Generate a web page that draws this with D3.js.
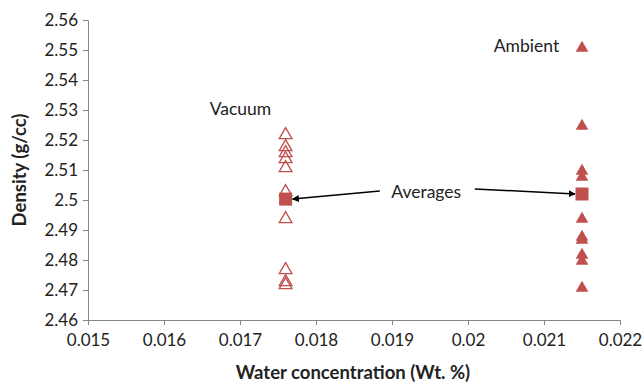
<!DOCTYPE html>
<html>
<head>
<meta charset="utf-8">
<script src="https://cdn.jsdelivr.net/npm/d3@7"></script>
<style>
  body { margin: 0; background: #fff; }
  svg text { font-family: Lato, "Open Sans", sans-serif; fill: #222; }
</style>
</head>
<body>
<div id="chart"></div>
<script>
// data
const vacuumX = 0.0176;
const ambientX = 0.0215;
const vacuumDensity = [2.522, 2.518, 2.516, 2.514, 2.511, 2.503, 2.494, 2.477, 2.473, 2.472];
const ambientDensity = [2.551, 2.525, 2.510, 2.508, 2.494, 2.488, 2.487, 2.482, 2.480, 2.471];
const averages = [{x: vacuumX, y: 2.5003}, {x: ambientX, y: 2.502}];
const xTicks = [0.015, 0.016, 0.017, 0.018, 0.019, 0.02, 0.021, 0.022];
const yTicks = [2.46, 2.47, 2.48, 2.49, 2.5, 2.51, 2.52, 2.53, 2.54, 2.55, 2.56];

const W = 644, H = 382;
const margin = {top: 20, right: 24, bottom: 62, left: 88};
const width = W - margin.left - margin.right,
      height = H - margin.top - margin.bottom;
const red = "#C0504D", axisCol = "#868686";

const x = d3.scaleLinear().domain([0.015, 0.022]).range([0, width]);
const y = d3.scaleLinear().domain([2.46, 2.56]).range([height, 0]);

const svg = d3.select("#chart").append("svg")
    .attr("width", W).attr("height", H);

svg.append("defs").append("marker")
    .attr("id", "arrow")
    .attr("viewBox", "0 0 10 10")
    .attr("refX", 9).attr("refY", 5)
    .attr("markerWidth", 7).attr("markerHeight", 7)
    .attr("markerUnits", "userSpaceOnUse")
    .attr("orient", "auto")
  .append("path")
    .attr("d", "M0,0 L10,5 L0,10 Z")
    .attr("fill", "#000");

const g = svg.append("g")
    .attr("transform", `translate(${margin.left},${margin.top})`);

//axes
const xAxis = g.append("g")
    .attr("transform", `translate(0,${height})`)
    .call(d3.axisBottom(x).tickValues(xTicks).tickFormat(d => String(+d.toFixed(3))).tickSize(5).tickSizeOuter(0).tickPadding(9));
const yAxis = g.append("g")
    .call(d3.axisLeft(y).tickValues(yTicks).tickFormat(d => String(+d.toFixed(2))).tickSize(5).tickSizeOuter(0).tickPadding(5));
[xAxis, yAxis].forEach(a => {
  a.selectAll("path, line").attr("stroke", axisCol);
  a.selectAll("text").style("font-size", "17px").attr("fill", "#222");
});

//axis titles
svg.append("text")
    .attr("x", 353).attr("y", 379)
    .attr("text-anchor", "middle")
    .style("font-size", "18.5px").style("font-weight", "bold")
    .text("Water concentration (Wt. %)");
svg.append("text")
    .attr("transform", `translate(26,170) rotate(-90)`)
    .attr("text-anchor", "middle")
    .style("font-size", "18.5px").style("font-weight", "bold")
    .text("Density (g/cc)");

const tri = d3.symbol().type(d3.symbolTriangle).size(70);

//vacuum: open triangles
g.selectAll(".vac")
  .data(vacuumDensity)
  .enter().append("path")
    .attr("class", "vac")
    .attr("d", tri)
    .attr("transform", d => `translate(${x(vacuumX)},${y(d) + 1})`)
    .attr("fill", "none")
    .attr("stroke", red)
    .attr("stroke-width", 1.3);

//ambient: filled triangles
g.selectAll(".amb")
  .data(ambientDensity)
  .enter().append("path")
    .attr("class", "amb")
    .attr("d", tri)
    .attr("transform", d => `translate(${x(ambientX)},${y(d) + 1})`)
    .attr("fill", red);

//averages: squares
g.selectAll(".avg")
  .data(averages)
  .enter().append("rect")
    .attr("class", "avg")
    .attr("x", d => x(d.x) - 6.5).attr("y", d => y(d.y) - 6.5)
    .attr("width", 13).attr("height", 13)
    .attr("fill", red);

//annotations
g.append("text").attr("x", x(0.01741)).attr("y", y(2.5285))
    .attr("text-anchor", "end").style("font-size", "17.5px").text("Vacuum");
g.append("text").attr("x", x(0.0212)).attr("y", y(2.5495))
    .attr("text-anchor", "end").style("font-size", "17.5px").text("Ambient");
g.append("text").attr("x", x(0.01945)).attr("y", y(2.5006))
    .attr("text-anchor", "middle").style("font-size", "17.5px").text("Averages");

g.append("line")
    .attr("x1", x(0.01884)).attr("y1", y(2.503))
    .attr("x2", x(vacuumX) + 7).attr("y2", y(2.5003))
    .attr("stroke", "#000").attr("stroke-width", 1.5)
    .attr("marker-end", "url(#arrow)");
g.append("line")
    .attr("x1", x(0.02009)).attr("y1", y(2.5037))
    .attr("x2", x(ambientX) - 7).attr("y2", y(2.502))
    .attr("stroke", "#000").attr("stroke-width", 1.5)
    .attr("marker-end", "url(#arrow)");
</script>
</body>
</html>
